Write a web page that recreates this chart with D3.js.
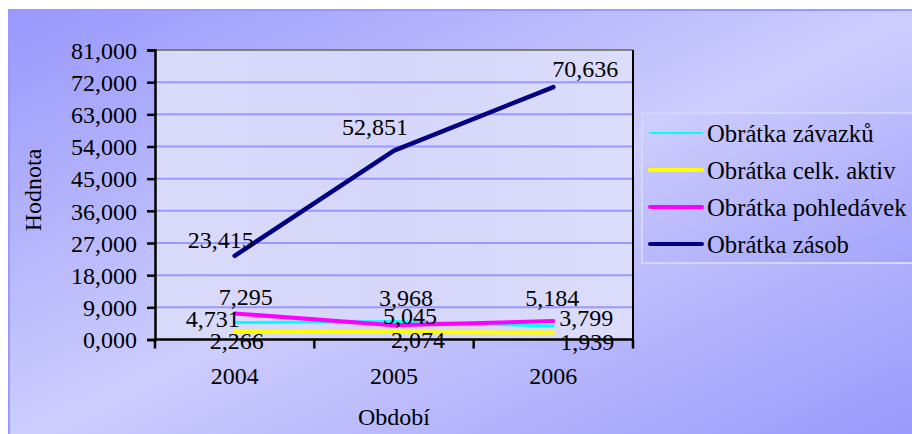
<!DOCTYPE html>
<html>
<head>
<meta charset="utf-8">
<script src="https://cdn.jsdelivr.net/npm/d3@7/dist/d3.min.js"></script>
<style>
  html, body { margin: 0; padding: 0; background: #ffffff; }
  svg { display: block; }
  text { font-family: "Liberation Serif", "Times New Roman", serif; fill: #000; }
</style>
</head>
<body>
<svg id="chart" width="912" height="434"></svg>
<script>
// Periods on the category axis
const years = ["2004", "2005", "2006"];

// Turnover ratios per period
const obratkaZavazku = [4.731, 5.045, 3.799];
const obratkaCelkAktiv = [2.266, 2.074, 1.939];
const obratkaPohledavek = [7.295, 3.968, 5.184];
const obratkaZasob = [23.415, 52.851, 70.636];

// Value axis ticks
const yTicks = [0, 9, 18, 27, 36, 45, 54, 63, 72, 81];

// Series names as shown in the legend
const seriesNames = ["Obrátka závazků", "Obrátka celk. aktiv", "Obrátka pohledávek", "Obrátka zásob"];

// Styling, kept apart from the data
const seriesStyle = [
  { color: "#00ffff", width: 3, legendWidth: 2 },
  { color: "#ffff00", width: 4, legendWidth: 4 },
  { color: "#ff00ff", width: 4, legendWidth: 4 },
  { color: "#000080", width: 4.5, legendWidth: 4 }
];
// Data label offsets from each point: [dx to label centre, dy to baseline]
const labelOffsets = [
  [[-22, 4], [16, 3], [33, 0]],
  [[2, 18], [24, 16], [34, 17]],
  [[11, -8], [12, -19], [-1, -14.5]],
  [[-14, -8], [-19, -16], [32, -10]]
];

const seriesValues = [obratkaZavazku, obratkaCelkAktiv, obratkaPohledavek, obratkaZasob];

const locale = d3.formatLocale({ decimal: ",", thousands: " ", grouping: [3], currency: ["", " Kč"] });
const fmt = locale.format(".3f");

const svg = d3.select("#chart");
const W = 912, H = 434;
const plot = { left: 155, right: 633, top: 50, bottom: 339.5 };
const FONT = 24;
const LEGEND_FONT = 24.7;

// Background gradients
const defs = svg.append("defs");
const bg = defs.append("linearGradient").attr("id", "bgGrad")
  .attr("x1", 0).attr("y1", 0).attr("x2", 1).attr("y2", 1);
bg.append("stop").attr("offset", "0%").attr("stop-color", "#9898fc");
bg.append("stop").attr("offset", "50%").attr("stop-color", "#cdcdfd");
bg.append("stop").attr("offset", "100%").attr("stop-color", "#9898fc");

const pg = defs.append("linearGradient").attr("id", "plotGrad")
  .attr("x1", 0).attr("y1", 0).attr("x2", 1).attr("y2", 0);
pg.append("stop").attr("offset", "0%").attr("stop-color", "#dadafa");
pg.append("stop").attr("offset", "50%").attr("stop-color", "#d6d6fa");
pg.append("stop").attr("offset", "100%").attr("stop-color", "#dcdcfb");

const lg = defs.append("linearGradient").attr("id", "legGrad")
  .attr("x1", 0).attr("y1", 0).attr("x2", 1).attr("y2", 1);
lg.append("stop").attr("offset", "0%").attr("stop-color", "#cfcffd");
lg.append("stop").attr("offset", "100%").attr("stop-color", "#a2a2fc");

// Chart area
svg.append("rect").attr("x", 9).attr("y", 10).attr("width", W).attr("height", H)
  .attr("fill", "url(#bgGrad)").attr("stroke", "#9999ff").attr("stroke-width", 2);

// Scales
const x = d3.scaleBand().domain(years).range([plot.left, plot.right]);
const cx = d => x(d) + x.bandwidth() / 2;
const y = d3.scaleLinear().domain([0, 81]).range([plot.bottom, plot.top]);

// Plot area
svg.append("rect").attr("x", plot.left).attr("y", plot.top)
  .attr("width", plot.right - plot.left).attr("height", plot.bottom - plot.top)
  .attr("fill", "url(#plotGrad)");

// Gridlines
svg.append("g").selectAll("line").data(yTicks.filter(t => t > 0 && t < 81)).join("line")
  .attr("x1", plot.left).attr("x2", plot.right)
  .attr("y1", d => y(d)).attr("y2", d => y(d))
  .attr("stroke", "#9999ff").attr("stroke-width", 2);

// Plot border: top grey, right black
svg.append("line").attr("x1", plot.left).attr("x2", plot.right)
  .attr("y1", plot.top).attr("y2", plot.top).attr("stroke", "#808080").attr("stroke-width", 2);
svg.append("line").attr("x1", plot.right).attr("x2", plot.right)
  .attr("y1", plot.top).attr("y2", plot.bottom).attr("stroke", "#000").attr("stroke-width", 2);

// Y axis
const yAxis = svg.append("g").attr("transform", `translate(${plot.left},0)`)
  .call(d3.axisLeft(y).tickValues(yTicks).tickFormat(fmt).tickSize(8).tickPadding(10));
yAxis.select(".domain").attr("stroke", "#000").attr("stroke-width", 2.5);
yAxis.selectAll(".tick line").attr("stroke", "#000").attr("stroke-width", 2.5);
yAxis.selectAll(".tick text").attr("font-size", FONT).attr("font-family", "Liberation Serif").attr("dy", "0.34em");

// X axis with ticks on category boundaries
const xAxis = svg.append("g").attr("transform", `translate(0,${plot.bottom})`);
xAxis.append("line").attr("x1", plot.left).attr("x2", plot.right)
  .attr("stroke", "#000").attr("stroke-width", 2.5);
const boundaries = years.map(d => x(d)).concat([plot.right]);
xAxis.selectAll("line.tk").data(boundaries).join("line").attr("class", "tk")
  .attr("x1", d => d).attr("x2", d => d).attr("y1", 0).attr("y2", 9)
  .attr("stroke", "#000").attr("stroke-width", 2.5);
xAxis.selectAll("text").data(years).join("text")
  .attr("x", d => cx(d)).attr("y", 44).attr("text-anchor", "middle")
  .attr("font-size", FONT).text(d => d);

// Series lines
const line = d3.line().x((v, i) => cx(years[i])).y(v => y(v));
svg.append("g").selectAll("path").data(seriesValues).join("path")
  .attr("d", d => line(d)).attr("fill", "none")
  .attr("stroke", (d, i) => seriesStyle[i].color)
  .attr("stroke-width", (d, i) => seriesStyle[i].width)
  .attr("stroke-linejoin", "round").attr("stroke-linecap", "round");

// Data labels
const labels = svg.append("g");
seriesValues.forEach((vals, s) => {
  vals.forEach((v, i) => {
    labels.append("text")
      .attr("x", cx(years[i]) + labelOffsets[s][i][0])
      .attr("y", y(v) + labelOffsets[s][i][1])
      .attr("text-anchor", "middle").attr("font-size", FONT)
      .text(fmt(v));
  });
});

// Axis titles
svg.append("text").attr("x", 394).attr("y", 425).attr("text-anchor", "middle")
  .attr("font-size", FONT).text("Období");
svg.append("text").attr("transform", "translate(41,190) rotate(-90)")
  .attr("text-anchor", "middle").attr("font-size", FONT).text("Hodnota");

// Legend
const legend = svg.append("g");
legend.append("rect").attr("x", 642).attr("y", 113).attr("width", 290).attr("height", 150)
  .attr("fill", "url(#legGrad)").attr("stroke", "#d6d6fd").attr("stroke-width", 2);
const rowY = [133, 170, 207, 244];
seriesNames.forEach((name, i) => {
  legend.append("line").attr("x1", 650).attr("x2", 702)
    .attr("y1", rowY[i]).attr("y2", rowY[i])
    .attr("stroke", seriesStyle[i].color).attr("stroke-width", seriesStyle[i].legendWidth)
    .attr("stroke-linecap", "round");
  legend.append("text").attr("x", 707).attr("y", rowY[i] + 9)
    .attr("font-size", LEGEND_FONT).text(name);
});
</script>
</body>
</html>
